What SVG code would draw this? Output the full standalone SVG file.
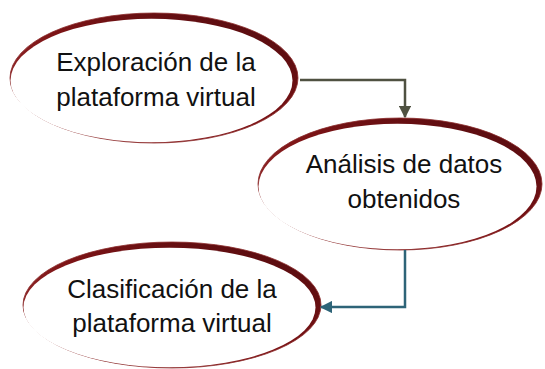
<svg xmlns="http://www.w3.org/2000/svg" width="545" height="369" viewBox="0 0 545 369">
<defs>
<linearGradient id="rim" x1="0" y1="1" x2="1" y2="0">
<stop offset="0" stop-color="#a23a3a"/>
<stop offset="0.5" stop-color="#7d1416"/>
<stop offset="1" stop-color="#4f0a0e"/>
</linearGradient>
<marker id="ah1" viewBox="0 0 10 10" refX="9" refY="5" markerWidth="5" markerHeight="5" orient="auto" markerUnits="strokeWidth">
<path d="M0,0 L10,5 L0,10 Z" fill="#4f5141"/>
</marker>
<marker id="ah2" viewBox="0 0 10 10" refX="9" refY="5" markerWidth="5" markerHeight="5" orient="auto" markerUnits="strokeWidth">
<path d="M0,0 L10,5 L0,10 Z" fill="#2e6478"/>
</marker>
</defs>
<style>
.outer{fill:url(#rim);stroke:#8a2a2a;stroke-width:0.8}
.inner{fill:#ffffff}
.lbl{font-family:"Liberation Sans",Arial,sans-serif;font-size:26px;fill:#111111;text-anchor:middle}
.c1{fill:none;stroke:#4f5141;stroke-width:2.5}
.c2{fill:none;stroke:#2e6478;stroke-width:2.5}
</style>
<rect width="545" height="369" fill="#ffffff"/>
<g id="node1">
<ellipse class="outer" cx="154" cy="78" rx="144" ry="65"/>
<ellipse class="inner" cx="151.5" cy="80.5" rx="141" ry="61.8"/>
<text class="lbl" x="156" y="71">Exploración de la</text>
<text class="lbl" x="156" y="106">plataforma virtual</text>
</g>
<g id="node2">
<ellipse class="outer" cx="400" cy="184" rx="142" ry="66"/>
<ellipse class="inner" cx="397.5" cy="186.5" rx="139" ry="62.8"/>
<text class="lbl" x="404" y="173">Análisis de datos</text>
<text class="lbl" x="404" y="208">obtenidos</text>
</g>
<g id="node3">
<ellipse class="outer" cx="172" cy="305" rx="149" ry="63"/>
<ellipse class="inner" cx="169.5" cy="307.5" rx="146" ry="59.8"/>
<text class="lbl" x="172" y="298">Clasificación de la</text>
<text class="lbl" x="172" y="332">plataforma virtual</text>
</g>
<g id="connectors">
<path class="c1" d="M300,80 H405 V117" marker-end="url(#ah1)"/>
<path class="c2" d="M405,250 V307 H321" marker-end="url(#ah2)"/>
</g>
</svg>
